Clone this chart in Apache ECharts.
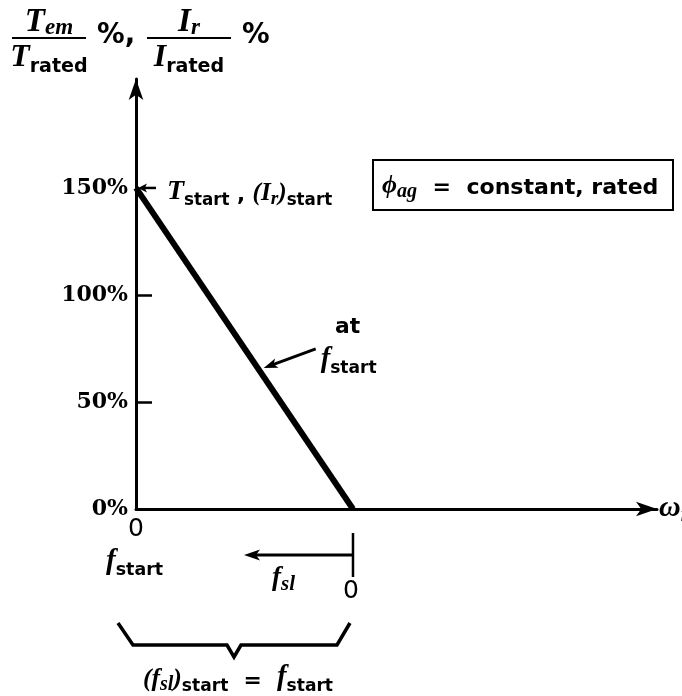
<!DOCTYPE html>
<html>
<head>
<meta charset="utf-8">
<script src="https://cdn.jsdelivr.net/npm/echarts@6/dist/echarts.min.js"></script>
<style>
  html, body { margin: 0; padding: 0; background: #fff; }
  #chart { width: 682px; height: 696px; }
</style>
</head>
<body>
<div id="chart"></div>
<script>
// Starting characteristic of an induction motor at constant, rated air-gap flux:
// torque (and rotor current) fall linearly from the starting value to zero
// at the synchronous speed that corresponds to f_start.
const speed = [0, 1];              // ω_r, per unit of synchronous speed at f_start
const torquePct = [150, 0];        // T_em / T_rated (= I_r / I_rated), %
const yLabelValues = [0, 50, 100, 150];
const yTickValues = [50, 100];
const xLabelValues = [0];

const SERIF = '"DejaVu Serif", "Liberation Serif", serif';
const TIMES = '"Liberation Serif", "DejaVu Serif", serif';
const SANS = '"DejaVu Sans", "Liberation Sans", sans-serif';
const INK = '#000';

const chart = echarts.init(document.getElementById('chart'), null, { renderer: 'canvas' });

chart.setOption({
  animation: false,
  backgroundColor: '#fff',
  grid: { left: 136, right: 25, top: 79, bottom: 187, containLabel: false },
  xAxis: {
    type: 'value', min: 0, max: 2.401,
    axisLine: { show: true, onZero: false, symbol: ['none', 'arrow'], symbolSize: [11, 21],
                lineStyle: { color: INK, width: 3 } },
    axisTick: { show: false },
    splitLine: { show: false },
    axisLabel: { customValues: xLabelValues, formatter: () => '0', margin: 8,
                 fontFamily: SANS, fontSize: 25, color: INK }
  },
  yAxis: {
    type: 'value', min: 0, max: 200.9,
    axisLine: { show: true, onZero: false, symbol: ['none', 'arrow'], symbolSize: [11, 21],
                lineStyle: { color: INK, width: 3 } },
    axisTick: { show: true, inside: true, length: 16, customValues: yTickValues,
                lineStyle: { color: INK, width: 2.5 } },
    splitLine: { show: false },
    axisLabel: { customValues: yLabelValues, formatter: v => v + '%', margin: 8,
                 fontFamily: SERIF, fontWeight: 'bold', fontSize: 22, color: INK }
  },
  series: [{
    type: 'line',
    data: speed.map((s, i) => [s, torquePct[i]]),
    symbol: 'none',
    lineStyle: { color: INK, width: 6, cap: 'butt' }
  }]
});

// ---- annotations, anchored to the data through the grid's coordinate system ----
const px = (x, y) => chart.convertToPixel({ gridIndex: 0 }, [x, y]);
const origin = px(0, 0);
const start = px(speed[0], torquePct[0]);
const stop = px(speed[1], torquePct[1]);

function rich(k) {
  return {
    I: { fontFamily: TIMES, fontStyle: 'italic', fontWeight: 'bold', fontSize: 30 * k,
         verticalAlign: 'bottom', padding: [0, 0, 3 * k, 0] },
    J: { fontFamily: TIMES, fontStyle: 'italic', fontWeight: 'bold', fontSize: 30 * k,
         verticalAlign: 'bottom', padding: [0, 0, 1, 0] },
    i: { fontFamily: TIMES, fontStyle: 'italic', fontWeight: 'bold', fontSize: 21 * k,
         verticalAlign: 'bottom' },
    s: { fontFamily: SANS, fontWeight: 'bold', fontSize: 18 * k, verticalAlign: 'bottom' },
    n: { fontFamily: SANS, fontWeight: 'bold', fontSize: 23 * k, verticalAlign: 'bottom',
         padding: [0, 0, 3 * k, 0] },
    z: { fontFamily: SANS, fontSize: 25 * k, verticalAlign: 'bottom' },
    p: { fontFamily: TIMES, fontStyle: 'italic', fontWeight: 'bold', fontSize: 27 * k,
         verticalAlign: 'bottom', padding: [0, 0, 3 * k, 0] }
  };
}

function label(x, y, text, align, k) {
  return { type: 'text', x: x, y: y, z: 10, silent: true,
           style: { text: text, rich: rich(k || 1), fill: INK, align: align || 'left',
                    verticalAlign: 'bottom' } };
}

function line(x1, y1, x2, y2, w) {
  return { type: 'line', z: 10, silent: true, shape: { x1, y1, x2, y2 },
           style: { stroke: INK, lineWidth: w || 2.5 } };
}

function arrow(x1, y1, x2, y2, hl, hw, w) {
  const dx = x2 - x1, dy = y2 - y1, L = Math.hypot(dx, dy);
  const ux = dx / L, uy = dy / L, nx = -uy, ny = ux;
  const bx = x2 - ux * hl, by = y2 - uy * hl;
  return [
    line(x1, y1, x2 - ux * hl * 0.6, y2 - uy * hl * 0.6, w),
    { type: 'polygon', z: 10, silent: true,
      shape: { points: [[x2, y2], [bx + nx * hw / 2, by + ny * hw / 2],
                        [x2 - ux * hl * 0.75, y2 - uy * hl * 0.75],
                        [bx - nx * hw / 2, by - ny * hw / 2]] },
      style: { fill: INK } }
  ];
}

const g = [];

// axis title: T_em/T_rated %, I_r/I_rated %
g.push(label(49, 40, '{J|T}{i|em}', 'center', 1.1));
g.push(line(12, 38, 86, 38, 2));
g.push(label(49, 77, '{I|T}{s|rated}', 'center', 1.06));
g.push(label(97, 53, '{n|%,}', 'left', 1.2));
g.push(label(189, 40, '{J|I}{i|r}', 'center', 1.1));
g.push(line(147, 38, 231, 38, 2));
g.push(label(189, 77, '{I|I}{s|rated}', 'center', 1.06));
g.push(label(242, 53, '{n|%}', 'left', 1.2));

// ω_r at the end of the speed axis
g.push(label(origin[0] + 523, origin[1] + 17, '{I|ω}{i|r}', 'left'));

// starting point
g.push(...arrow(start[0] + 20, start[1], start[0] + 2, start[1], 9, 9, 2.5));
g.push(label(start[0] + 31, start[1] + 21,
  '{I|T}{s|start}{n| , }{p|(I}{i|r}{p|)}{s|start}', 'left', 0.93));

// "at f_start" pointer onto the characteristic
const onLine = px(0.57, torquePct[0] * (1 - 0.57 / speed[1]));
g.push(...arrow(onLine[0] + 56, onLine[1] - 22, onLine[0] + 4, onLine[1] - 3, 14, 10, 3));
g.push(label(onLine[0] + 88, onLine[1] - 30, '{n|at}', 'center', 0.95));
g.push(label(onLine[0] + 61, onLine[1] + 6, '{I|f}{s|start}', 'left', 0.95));

// slip frequency scale beneath the speed axis
g.push(label(origin[0] - 30, origin[1] + 70, '{I|f}{s|start}', 'left', 0.97));
g.push(line(stop[0], origin[1] + 24, stop[0], origin[1] + 68, 2.5));
g.push(...arrow(stop[0], origin[1] + 46, origin[0] + 108, origin[1] + 46, 16, 11, 3));
g.push(label(stop[0] - 81, origin[1] + 86, '{p|f}{i|sl}', 'left'));
g.push(label(stop[0] - 2, origin[1] + 95, '{z|0}', 'center'));

// brace spanning f_start .. 0
const bl = origin[0] - 18, br = stop[0] - 3, bm = (bl + br) / 2;
const bt = origin[1] + 114, bb = origin[1] + 136, bc = origin[1] + 148;
g.push({ type: 'polyline', z: 10, silent: true,
  shape: { points: [[bl, bt], [bl + 15, bb], [bm - 7, bb], [bm, bc], [bm + 7, bb], [br - 13, bb], [br, bt]] },
  style: { stroke: INK, lineWidth: 3.5, fill: null } });
g.push(label(bm + 4, origin[1] + 186,
  '{p|(f}{i|sl}{p|)}{s|start}{n|  =  }{I|f}{s|start}', 'center', 0.95));

// operating condition box
g.push({ type: 'rect', z: 10, silent: true, shape: { x: 373, y: 160, width: 300, height: 50 },
         style: { stroke: INK, lineWidth: 2, fill: '#fff' } });
g.push(label(382, 202, '{p|ϕ}{i|ag}{n|  =  constant, rated}', 'left', 0.96));

chart.setOption({ graphic: g });
</script>
</body>
</html>
